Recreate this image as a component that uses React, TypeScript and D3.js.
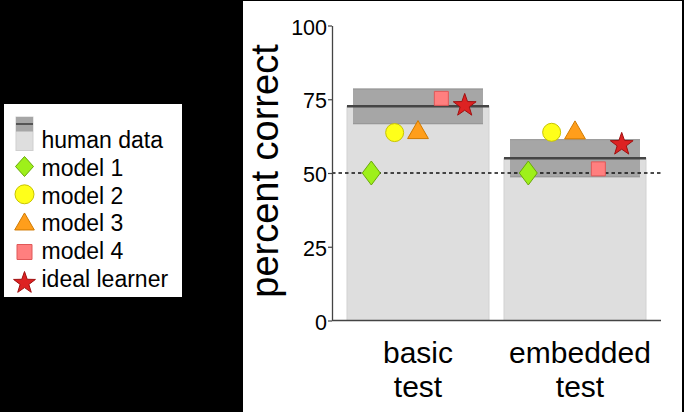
import { useEffect, useRef } from "react";
import * as d3 from "d3";

// conditions on the x axis (two lines each)
const categories = ["basic test", "embedded test"];
const categoryLines = [["basic", "test"], ["embedded", "test"]];

// human data: mean and error band
const humanMean = [72.6, 55.0];
const humanLow = [66.7, 48.7];
const humanHigh = [78.5, 61.3];

// model results, one value per condition
const modelNames = ["model 1", "model 2", "model 3", "model 4", "ideal learner"];
const model1 = [50.0, 50.0];
const model2 = [63.7, 63.8];
const model3 = [63.7, 63.6];
const model4 = [75.3, 51.4];
const idealLearner = [72.9, 59.7];

const yTicks = [0, 25, 50, 75, 100];

const FONT = "'Liberation Sans', Arial, Helvetica, sans-serif";

const W = 684;
const H = 412;

function diamondPath(w: number, h: number) {
  const p = d3.path();
  p.moveTo(0, -h / 2);
  p.lineTo(w / 2, 0);
  p.lineTo(0, h / 2);
  p.lineTo(-w / 2, 0);
  p.closePath();
  return p.toString();
}

function starPath(R: number) {
  const r = R * 0.4;
  const p = d3.path();
  for (let i = 0; i < 10; i++) {
    const rad = i % 2 === 0 ? R : r;
    const a = (i * Math.PI) / 5 - Math.PI / 2;
    const x = rad * Math.cos(a);
    const y = rad * Math.sin(a);
    if (i === 0) p.moveTo(x, y);
    else p.lineTo(x, y);
  }
  p.closePath();
  return p.toString();
}

function trianglePath(h: number) {
  const s = d3.symbol(d3.symbolTriangle, ((h / 3) ** 2) * Math.sqrt(3) * 3);
  return s() as string;
}

function squarePath(side: number) {
  return d3.symbol(d3.symbolSquare, side * side)() as string;
}

const markerStyles = [
  { fill: "#9ef01a", stroke: "#6aa80a", d: diamondPath(18, 24), ld: diamondPath(18, 20) },
  { fill: "#ffff1a", stroke: "#c8c400", d: d3.symbol(d3.symbolCircle, Math.PI * 81)(), ld: d3.symbol(d3.symbolCircle, Math.PI * 90)() },
  { fill: "#ff9e1b", stroke: "#d07a00", d: trianglePath(18), ld: trianglePath(17) },
  { fill: "#ff7f7f", stroke: "#e05858", d: squarePath(14), ld: squarePath(15) },
  { fill: "#dd2222", stroke: "#a01010", d: starPath(12), ld: starPath(11.5) },
];

export default function App() {
  const svgRef = useRef<SVGSVGElement>(null);

  useEffect(() => {
    const svg = d3.select(svgRef.current);
    svg.selectAll("*").remove();

    // black page with white panel
    svg.append("rect").attr("width", W).attr("height", H).attr("fill", "#000");
    svg.append("rect").attr("x", 243).attr("y", 1).attr("width", 439).attr("height", H).attr("fill", "#fff");

    const x = d3
      .scaleBand()
      .domain(categories)
      .range([332, 661])
      .paddingInner(15 / 157)
      .paddingOuter(15 / 157);

    const y = d3.scaleLinear().domain([0, 100]).range([320.5, 25.5]);

    const offset = d3.scalePoint().domain(modelNames).range([-46.7, 46.7]);

    const series = [model1, model2, model3, model4, idealLearner];

    const plot = svg.append("g");

    categories.forEach((c, i) => {
      const x0 = x(c) as number;
      const bw = x.bandwidth();
      const cx = x0 + bw / 2;

      // light bar up to mean
      plot
        .append("rect")
        .attr("x", x0)
        .attr("y", y(humanMean[i]))
        .attr("width", bw)
        .attr("height", y(0) - y(humanMean[i]))
        .attr("fill", "#dedede")
        .attr("stroke", "#d2d2d2")
        .attr("stroke-width", 1);

      // error band
      plot
        .append("rect")
        .attr("x", x0 + 6)
        .attr("y", y(humanHigh[i]))
        .attr("width", bw - 12)
        .attr("height", y(humanLow[i]) - y(humanHigh[i]))
        .attr("fill", "#a6a6a6");

      [humanHigh[i], humanLow[i]].forEach((v) => {
        plot
          .append("line")
          .attr("x1", x0 + 6)
          .attr("x2", x0 + bw - 6)
          .attr("y1", y(v))
          .attr("y2", y(v))
          .attr("stroke", "#909090")
          .attr("stroke-width", 1);
      });

      plot
        .append("line")
        .attr("x1", x0)
        .attr("x2", x0 + bw)
        .attr("y1", y(humanMean[i]))
        .attr("y2", y(humanMean[i]))
        .attr("stroke", "#454545")
        .attr("stroke-width", 2.5);

      // x labels, two lines
      const lx = cx + (i === 1 ? 5 : 0);
      categoryLines[i].forEach((line, j) => {
        svg
          .append("text")
          .attr("x", lx)
          .attr("y", 362.5 + j * 34.8)
          .attr("text-anchor", "middle")
          .attr("font-family", FONT)
          .attr("font-size", 30)
          .attr("fill", "#000")
          .text(line);
      });
    });

    // chance line
    plot
      .append("line")
      .attr("x1", 332)
      .attr("x2", 662)
      .attr("y1", y(50))
      .attr("y2", y(50))
      .attr("stroke", "#111")
      .attr("stroke-width", 1.3)
      .attr("stroke-dasharray", "3.5,3");

    // model markers
    categories.forEach((c, i) => {
      const cx = (x(c) as number) + x.bandwidth() / 2;
      series.forEach((s, k) => {
        const m = markerStyles[k];
        plot
          .append("path")
          .attr("d", m.d)
          .attr("transform", `translate(${cx + (offset(modelNames[k]) as number)},${y(s[i])})`)
          .attr("fill", m.fill)
          .attr("stroke", m.stroke)
          .attr("stroke-width", 1);
      });
    });

    // axes
    const yAxis = svg
      .append("g")
      .attr("transform", "translate(332,0)")
      .call(
        d3
          .axisLeft(y)
          .tickValues(yTicks)
          .tickSize(4)
          .tickSizeOuter(0)
          .tickPadding(1)
      );
    yAxis.select(".domain").attr("stroke", "#444").attr("stroke-width", 1.3);
    yAxis.selectAll(".tick line").attr("stroke", "#444").attr("stroke-width", 1.2);
    yAxis
      .selectAll(".tick text")
      .attr("font-family", FONT)
      .attr("font-size", 21.5)
      .attr("fill", "#000")
      .attr("dy", "0.4em");

    svg
      .append("line")
      .attr("x1", 332)
      .attr("x2", 661)
      .attr("y1", y(0))
      .attr("y2", y(0))
      .attr("stroke", "#444")
      .attr("stroke-width", 1.3);

    svg
      .append("text")
      .attr("transform", "translate(278,171) rotate(-90)")
      .attr("text-anchor", "middle")
      .attr("font-family", FONT)
      .attr("font-size", 38)
      .attr("fill", "#000")
      .text("percent correct");

    // legend
    const legend = svg.append("g");
    legend.append("rect").attr("x", 4).attr("y", 104).attr("width", 178).attr("height", 193).attr("fill", "#fff");

    legend
      .append("rect")
      .attr("x", 16)
      .attr("y", 117)
      .attr("width", 17)
      .attr("height", 33.5)
      .attr("fill", "#dedede")
      .attr("stroke", "#cfcfcf");
    legend.append("rect").attr("x", 16).attr("y", 117).attr("width", 17).attr("height", 14.5).attr("fill", "#a6a6a6");
    legend.append("line").attr("x1", 16).attr("x2", 33).attr("y1", 124).attr("y2", 124).attr("stroke", "#555").attr("stroke-width", 2);

    const labels = ["human data", ...modelNames];
    const baselines = [148, 176, 203.5, 231, 258.5, 286.5];
    const iconY = [0, 166.5, 194.3, 224.3, 252, 283];

    labels.forEach((t, i) => {
      legend
        .append("text")
        .attr("x", 41.5)
        .attr("y", baselines[i])
        .attr("font-family", FONT)
        .attr("font-size", 23)
        .attr("fill", "#000")
        .text(t);
      if (i > 0) {
        const m = markerStyles[i - 1];
        legend
          .append("path")
          .attr("d", m.ld)
          .attr("transform", `translate(24.5,${iconY[i]})`)
          .attr("fill", m.fill)
          .attr("stroke", m.stroke)
          .attr("stroke-width", 1);
      }
    });
  }, []);

  return (
    <svg
      ref={svgRef}
      width={W}
      height={H}
      style={{ position: "fixed", left: 0, top: 0, display: "block" }}
    />
  );
}
